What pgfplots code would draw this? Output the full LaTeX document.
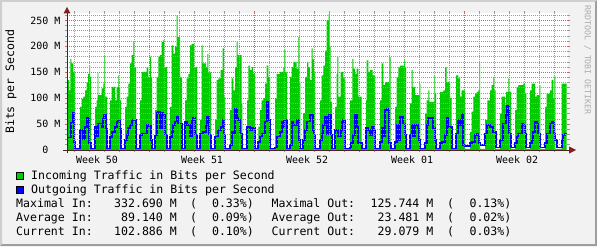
\documentclass[border=0pt]{standalone}
\usepackage{fontspec}
\usepackage{pgfplots}
\usepackage{pgfplotstable}
\pgfplotsset{compat=1.18}
\newfontfamily\mono{DejaVu Sans Mono}
\definecolor{rrdback}{HTML}{F2F2F2}
\definecolor{shadeA}{HTML}{CFCFCF}
\definecolor{shadeB}{HTML}{9E9E9E}
\definecolor{gridc}{HTML}{9A9A9A}
\definecolor{mgridc}{HTML}{E45C5C}
\definecolor{arrowc}{HTML}{801F1F}
\definecolor{axisc}{HTML}{4A2222}
\definecolor{inc}{HTML}{00CC00}
\definecolor{outc}{HTML}{0000FF}
\definecolor{wmark}{HTML}{ABABAB}

% x: time in pixel columns (15 columns = 1 day, week 51 starts at 149.5); in/out in Mbit/s
\pgfplotstableread{
x in out
67 135 24
69 115 24
70.3 176 24
71.3 167 53
73.3 150 72
74.3 150 16
75 2 3
80 83 38
81.7 99 38
83.3 103 22
85 115 45
86.7 131 45
87.3 131 61
88 147 61
89.3 163 13
90 141 13
91 2 3
95 83 45
96.7 96 26
97.7 149 51
98.3 106 51
101.7 119 45
103.3 128 60
104.3 181 67
105 103 67
106 103 40
107 2 3
110 96 25
111.7 122 35
115 96 45
116.7 122 55
118.3 144 56
119 122 56
120 96 40
121 2 3
125 83 19
126.7 103 29
128.3 128 42
130 167 48
131.7 183 58
133.3 208 58
134.3 160 58
136 2 3
140 96 29
141.7 151 32
146.7 160 48
148.3 141 46
150 180 46
151 141 20
152 2 3
155 77 28
156.7 141 71
158.3 180 74
160 183 42
161.7 208 71
163.3 212 67
164.3 160 67
165.3 160 30
167 2 3
170 83 25
171.7 202 35
173.3 186 48
175 199 55
176.7 260 64
177.7 218 64
178.3 218 51
180 140 51
182 2 3
185 96 55
186.7 138 48
188.3 147 48
190 202 26
191.7 205 58
193.3 205 62
194.3 160 62
195 160 30
197 2 3
200 58 32
201.7 202 32
202.7 167 35
206 160 48
207.3 185 63
208.3 150 63
209.3 150 30
211 2 3
215 58 26
216.7 135 26
218.3 138 38
220.7 154 45
222.7 196 59
224 103 30
225 2 3
230 77 10
231.7 138 35
233.3 115 32
235 160 80
236.7 208 61
237.7 183 61
238.3 183 58
240 183 32
241.7 90 32
242.3 2 3
247 96 45
248.3 163 45
250 154 38
251.7 160 42
253 147 42
255 2 3
258.3 45 16
260 77 26
261.7 96 32
263.3 100 32
265 128 55
266.7 163 93
268.3 141 58
270 2 3
275 99 5
276.7 147 26
280 151 35
281.7 151 55
283.3 160 45
284.3 194 58
285.3 150 58
287 2 3
290 141 10
291.7 160 55
293.3 170 48
296.7 157 58
298.3 218 58
299.3 130 20
300.3 2 3
303 71 20
305 141 38
307 170 55
308.3 160 55
310 135 67
311.7 196 67
312.7 175 38
314 150 30
315 2 3
320 96 20
321.7 144 32
323.3 163 48
325 192 64
326.7 250 30
328.7 262 67
329.7 200 67
330.7 93 30
332 2 3
335 83 38
336.7 147 38
337.3 179 38
338.3 103 26
340.7 151 38
341.7 151 54
343.3 138 58
345.3 2 3
350 96 5
351 96 13
352.3 176 13
353.3 157 29
355 147 67
356.7 157 45
358.3 103 13
361.7 2 3
366 96 42
366.7 173 42
368.3 151 38
370 154 29
371.7 154 45
372.7 144 45
374 144 38
375 2 3
380 96 16
381.7 167 42
383.3 125 26
385 131 77
387.3 131 80
389.3 179 13
390.7 2 3
395 83 16
396.7 141 48
398.3 160 19
400 163 64
402.7 163 51
404 173 51
405 160 30
406 2 3
410 90 30
411.7 154 48
412.7 122 48
413.3 122 26
415 106 48
418.3 106 40
419.3 128 20
420.3 2 3
425 70 13
426.7 96 48
428.3 115 61
429.3 93 61
431.7 93 61
433.3 93 42
434.3 144 42
435 110 20
436 2 3
440 112 13
441.7 112 16
443.3 115 16
445 160 29
446.7 131 61
448.3 131 45
450 100 45
451.7 2 3
456 144 32
458.3 138 58
460 103 48
461.7 115 70
463.3 115 10
465 2 8
470 35 13
471.7 74 16
473.3 103 16
475 109 29
476.7 112 31
478.3 115 31
479.3 168 13
480 2 10
485 58 32
487.3 96 48
490 115 45
491.7 125 45
492.7 125 35
493.3 141 35
494.3 115 35
495.7 2 5
500 70 19
501.7 103 19
503.3 103 51
505 87 51
506 112 67
507.3 112 85
508.3 138 85
509.3 112 32
511 2 5
515 77 13
516.7 122 26
518.3 125 32
521.7 125 51
523.3 128 48
525 110 32
526.3 2 5
530 115 13
531.7 128 19
533.3 128 35
535 103 55
536.7 106 51
538.3 106 32
539.3 125 32
540.3 2 5
545 83 13
546.7 109 32
550 115 51
551.7 135 55
553.3 99 55
554.3 142 32
555.3 2 20
556.7 2 5
561.7 128 19
563.3 128 29
565 128 32
566.7 128 32
}\traffic

\begin{document}
\begin{tikzpicture}[x=1bp,y=1bp]
\useasboundingbox (0,0) rectangle (597,246);
\fill[rrdback] (0,0) rectangle (597,246);
\fill[shadeA] (0,0) -- (0,246) -- (597,246) -- (595,244) -- (2,244) -- (2,2) -- cycle;
\fill[shadeB] (0,0) -- (597,0) -- (597,246) -- (595,244) -- (595,2) -- (2,2) -- cycle;

\begin{axis}[
  at={(67bp,96bp)}, anchor=south west,
  scale only axis, width=501bp, height=136.8bp,
  xmin=67, xmax=568, ymin=0, ymax=264,
  axis background/.style={fill=white},
  axis on top,
  axis line style={draw=none},
  tick align=outside,
  major tick length=2bp, minor tick length=2bp,
  major tick style={mgridc, line width=0.8bp},
  minor tick style={gridc, line width=0.8bp},
  xtick pos=both, ytick pos=both,
  xticklabel pos=left, yticklabel pos=left,
  grid=both,
  major grid style={mgridc, line width=0.8bp, dash pattern=on 1bp off 1bp},
  minor grid style={gridc, line width=0.8bp, dash pattern=on 1bp off 1bp},
  xtick={149.5,254.5,359.5,464.5},
  xticklabels={,,,},
  minor xtick={74.5,89.5,104.5,119.5,134.5,164.5,179.5,194.5,209.5,224.5,239.5,269.5,284.5,299.5,314.5,329.5,344.5,374.5,389.5,404.5,419.5,434.5,449.5,479.5,494.5,509.5,524.5,539.5,554.5},
  extra x ticks={97,202,307,412,517},
  extra x tick labels={Week 50,Week 51,Week 52,Week 01,Week 02},
  extra x tick style={grid=none, major tick length=0pt},
  ytick={0,50,100,150,200,250},
  yticklabels={0\hphantom{MM},50 M,100 M,150 M,200 M,250 M},
  minor ytick={10,20,30,40,60,70,80,90,110,120,130,140,160,170,180,190,210,220,230,240,260},
  tick label style={font=\fontsize{10}{12}\mono, text=black},
  xticklabel style={anchor=base, inner sep=0pt, yshift=-13.2bp},
  yticklabel style={anchor=east, inner sep=0pt, xshift=-4.5bp},
]
\addplot[const plot, fill=inc, draw=none] table[x=x, y=in] {\traffic} \closedcycle;
\addplot[const plot, draw=outc, line width=1.8bp] table[x=x, y=out] {\traffic};
\end{axis}

% axes with arrows
\draw[axisc, line width=1bp] (63,96) -- (570,96);
\fill[arrowc] (569,92.5) -- (576,96) -- (569,99.5) -- cycle;
\draw[axisc, line width=1bp] (67,93) -- (67,233);
\fill[arrowc] (63.5,232.5) -- (67,239) -- (70.5,232.5) -- cycle;

% y label
\node[rotate=90, font=\fontsize{11.6}{12}\mono, inner sep=0pt] at (11,164.3) {Bits per Second};
% watermark
\node[rotate=-90, font=\fontsize{8.3}{9}\mono, text=wmark, inner sep=0pt] at (587.5,186) {RRDTOOL / TOBI OETIKER};

% legend
\filldraw[fill=inc, draw=black, line width=0.8bp] (16,66.7) rectangle (23,73.7);
\filldraw[fill=outc, draw=black, line width=0.8bp] (16,52.7) rectangle (23,59.7);
\begin{scope}[every node/.style={font=\fontsize{11.6}{12}\mono, inner sep=0pt, anchor=base west}]
\node at (31,66.9) {Incoming Traffic in Bits per Second};
\node at (31,52.9) {Outgoing Traffic in Bits per Second};
\node at (16,38.6) {Maximal In:};
\node at (16,24.6) {Average In:};
\node at (16,10.4) {Current In:};
\node[anchor=base east] at (177,38.6) {332.690 M};
\node[anchor=base east] at (177,24.6) {89.140 M};
\node[anchor=base east] at (177,10.4) {102.886 M};
\node at (190,38.6) {(};
\node at (190,24.6) {(};
\node at (190,10.4) {(};
\node[anchor=base east] at (254,38.6) {0.33\%)};
\node[anchor=base east] at (254,24.6) {0.09\%)};
\node[anchor=base east] at (254,10.4) {0.10\%)};
\node at (271.5,38.6) {Maximal Out:};
\node at (271.5,24.6) {Average Out:};
\node at (271.5,10.4) {Current Out:};
\node[anchor=base east] at (433.5,38.6) {125.744 M};
\node[anchor=base east] at (433.5,24.6) {23.481 M};
\node[anchor=base east] at (433.5,10.4) {29.079 M};
\node at (447,38.6) {(};
\node at (447,24.6) {(};
\node at (447,10.4) {(};
\node[anchor=base east] at (511.5,38.6) {0.13\%)};
\node[anchor=base east] at (511.5,24.6) {0.02\%)};
\node[anchor=base east] at (511.5,10.4) {0.03\%)};
\end{scope}
\end{tikzpicture}
\end{document}
